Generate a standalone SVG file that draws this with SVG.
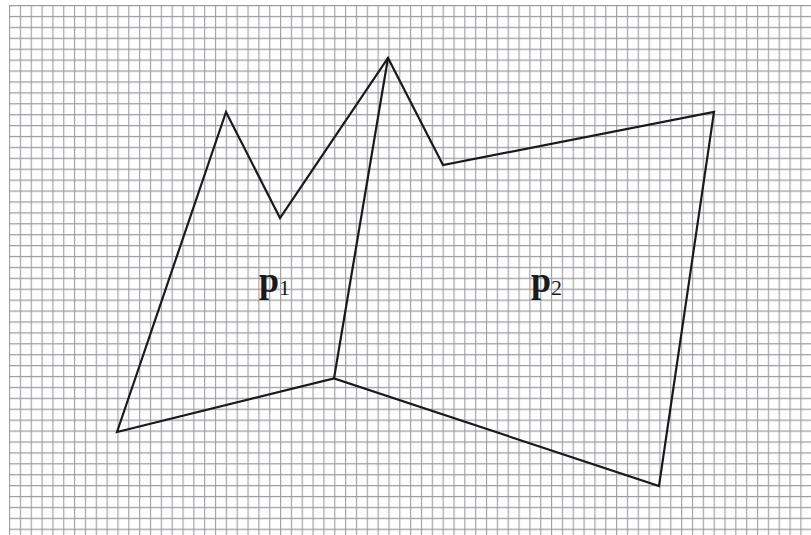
<svg xmlns="http://www.w3.org/2000/svg" width="811" height="535" viewBox="0 0 811 535">
<style>
.edge{fill:none;stroke:#1a1a1a;stroke-width:2.2;stroke-linejoin:miter}
.lbl{font-family:"Liberation Serif","Times New Roman",serif;fill:#1a1a1a}
.main{font-size:36px;font-weight:bold}
.sub{font-size:22px}
</style>
<defs>
<pattern id="grid" x="9" y="5" width="10.84" height="10.91" patternUnits="userSpaceOnUse">
<path d="M0.6 0V10.91M0 0.6H10.84" fill="none" stroke="#9c9ca2" stroke-width="1.1"/>
</pattern>
</defs>
<rect width="811" height="535" fill="#ffffff"/>
<rect x="9" y="5" width="802" height="530" fill="url(#grid)"/>
<g id="connectors">
<path class="edge" d="M117 432 L226 112 L280 218 L388 58 L443 165 L714 112 L659 486 L334 378.5 Z"/>
<path class="edge" d="M388 58 L334 378.5"/>
</g>
<g id="p1">
<text class="lbl" x="259" y="292"><tspan class="main">p</tspan><tspan class="sub" dy="3">1</tspan></text>
</g>
<g id="p2">
<text class="lbl" x="531" y="292"><tspan class="main">p</tspan><tspan class="sub" dy="3">2</tspan></text>
</g>
</svg>
